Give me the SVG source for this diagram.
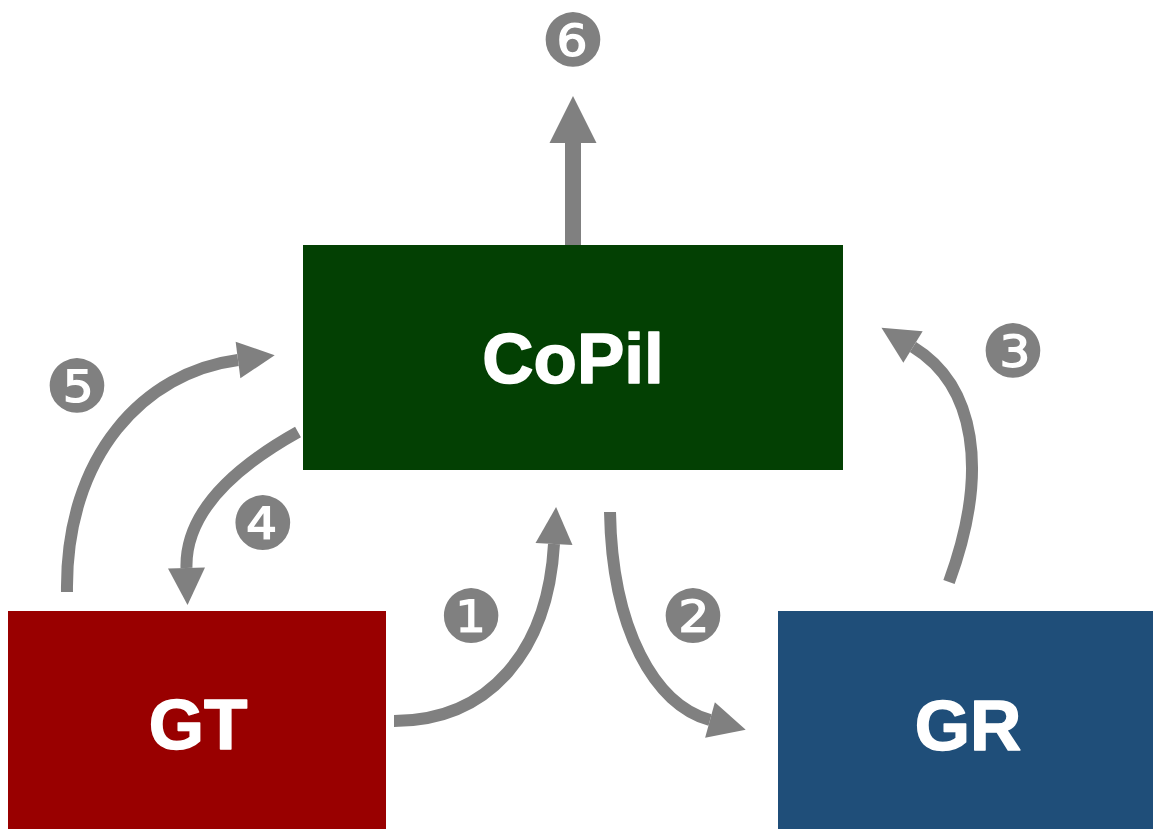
<svg xmlns="http://www.w3.org/2000/svg" width="1153" height="829" viewBox="0 0 1153 829">
<style>
.lbl{font-family:"Liberation Sans",Arial,sans-serif;font-weight:bold;font-size:71px;fill:#fff;stroke:#fff;stroke-width:1.5;stroke-linejoin:round;text-anchor:middle}
.num{font-family:"DejaVu Serif","DejaVu Sans",serif;font-size:73px;fill:#808080;text-anchor:middle}
.conn{fill:none;stroke:#808080;stroke-width:12}
</style>
<defs>
<marker id="ah" markerUnits="userSpaceOnUse" orient="auto" markerWidth="38" markerHeight="38" refX="0" refY="18.5" viewBox="0 0 38 37" overflow="visible">
<path d="M0,0 L37,18.5 L0,37 z" fill="#808080"/>
</marker>
<marker id="ahb" markerUnits="userSpaceOnUse" orient="auto" markerWidth="48" markerHeight="48" refX="0" refY="23.5" viewBox="0 0 48 47" overflow="visible">
<path d="M0,0 L47,23.5 L0,47 z" fill="#808080"/>
</marker>
</defs>
<rect width="1153" height="829" fill="#fff"/>
<g id="connectors">
<path class="conn" style="stroke-width:16" d="M573,245 L573,143" marker-end="url(#ahb)"/>
<path class="conn" d="M394,721 C490,721 548,650 554,544" marker-end="url(#ah)"/>
<path class="conn" d="M610,512 C612,630 655,705 710,720" marker-end="url(#ah)"/>
<path class="conn" d="M949,582 C990,470 975,385 913,347" marker-end="url(#ah)"/>
<path class="conn" d="M67,592 C65,455 145,372 238,360" marker-end="url(#ah)"/>
<path class="conn" d="M298,432 C230,470 185,515 186.5,568" marker-end="url(#ah)"/>
</g>
<g id="copil">
<rect x="303" y="245" width="540" height="225" fill="#034003"/>
<text class="lbl" x="573" y="383">CoPil</text>
</g>
<g id="gt">
<rect x="8" y="611" width="378" height="218" fill="#990000"/>
<text class="lbl" x="198" y="749">GT</text>
</g>
<g id="gr">
<rect x="778" y="611" width="375" height="218" fill="#1f4e79"/>
<text class="lbl" x="968" y="750">GR</text>
</g>
<g id="labels">
<text class="num" x="573" y="66">❻</text>
<text class="num" x="1013" y="377">❸</text>
<text class="num" x="77" y="412">❺</text>
<text class="num" x="263" y="549">❹</text>
<text class="num" x="471" y="642">❶</text>
<text class="num" x="693" y="642">❷</text>
</g>
</svg>
